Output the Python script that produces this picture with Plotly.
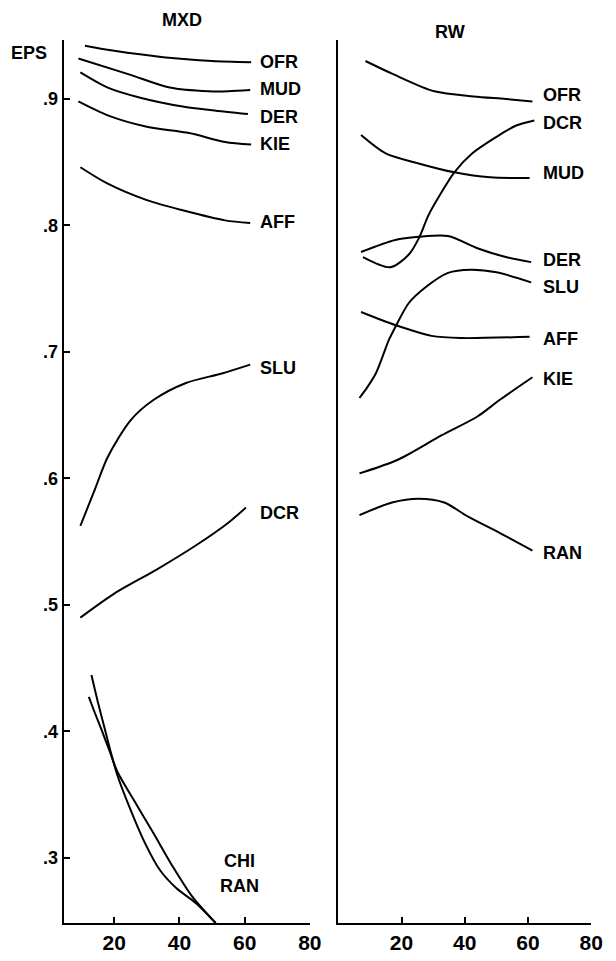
import plotly.graph_objects as go

# EPS against X for the MXD and RW series
mxd_ofr_x = [11, 20, 35, 50, 62]
mxd_ofr_y = [0.942, 0.938, 0.933, 0.930, 0.929]
mxd_mud_x = [9, 25, 37, 49, 55, 61.7]
mxd_mud_y = [0.932, 0.919, 0.909, 0.906, 0.906, 0.907]
mxd_der_x = [9.6, 18, 28, 41, 50, 61]
mxd_der_y = [0.921, 0.909, 0.901, 0.894, 0.891, 0.888]
mxd_kie_x = [9, 18, 30, 43, 54, 62]
mxd_kie_y = [0.898, 0.887, 0.878, 0.873, 0.866, 0.864]
mxd_aff_x = [9.6, 18, 30, 41, 54, 61.7]
mxd_aff_y = [0.846, 0.833, 0.820, 0.812, 0.804, 0.802]
mxd_slu_x = [9.6, 14, 18, 25, 32, 42, 53, 61.7]
mxd_slu_y = [0.5625, 0.591, 0.617, 0.646, 0.662, 0.6755, 0.683, 0.690]
mxd_dcr_x = [9.6, 20, 33, 45, 55, 60.4]
mxd_dcr_y = [0.490, 0.509, 0.528, 0.547, 0.565, 0.577]
mxd_chi_x = [12.2, 14, 16, 18.5, 21, 26, 32, 38, 44, 51.1]
mxd_chi_y = [0.4273, 0.415, 0.402, 0.385, 0.368, 0.3458, 0.3198, 0.293, 0.2692, 0.2486]
mxd_ran_x = [13, 15, 17, 19, 21, 24.7, 29.2, 34, 39, 45, 51.1]
mxd_ran_y = [0.4447, 0.423, 0.403, 0.383, 0.365, 0.340, 0.313, 0.2905, 0.2763, 0.2644, 0.2486]

rw_ofr_x = [8.6, 17, 30.4, 42.8, 53, 61.4]
rw_ofr_y = [0.930, 0.920, 0.906, 0.902, 0.900, 0.898]
rw_dcr_x = [7.8, 16.5, 22.3, 25.7, 28.5, 32.6, 36.7, 42.4, 50, 56.3, 62]
rw_dcr_y = [0.775, 0.767, 0.777, 0.791, 0.808, 0.826, 0.842, 0.857, 0.870, 0.879, 0.883]
rw_mud_x = [7.2, 15, 25.4, 36.7, 48, 60.5]
rw_mud_y = [0.8715, 0.857, 0.849, 0.842, 0.838, 0.8375]
rw_der_x = [7.2, 18, 25.4, 34.7, 44, 53, 61]
rw_der_y = [0.779, 0.7885, 0.791, 0.7917, 0.782, 0.775, 0.771]
rw_slu_x = [6.7, 9.3, 11.9, 14, 16, 18.1, 22.3, 27.3, 34.7, 41.9, 50, 61]
rw_slu_y = [0.6636, 0.6726, 0.6832, 0.6963, 0.7095, 0.720, 0.7387, 0.7506, 0.7625, 0.765, 0.763, 0.755]
rw_aff_x = [7.2, 18, 29.5, 38.8, 60.5]
rw_aff_y = [0.7316, 0.7213, 0.7127, 0.711, 0.712]
rw_kie_x = [6.7, 19, 32.6, 44, 51, 61.4]
rw_kie_y = [0.604, 0.615, 0.634, 0.649, 0.662, 0.680]
rw_ran_x = [6.7, 17, 25.4, 33.5, 40.9, 51, 61.4]
rw_ran_y = [0.571, 0.581, 0.584, 0.581, 0.570, 0.557, 0.543]

# Curve labels: (text, y position)
mxd_labels = [("OFR", 0.929), ("MUD", 0.908), ("DER", 0.886), ("KIE", 0.864),
              ("AFF", 0.803), ("SLU", 0.687), ("DCR", 0.573)]
mxd_low_labels = [("CHI", 0.298), ("RAN", 0.278)]
rw_labels = [("OFR", 0.903), ("DCR", 0.881), ("MUD", 0.8415), ("DER", 0.773),
             ("SLU", 0.751), ("AFF", 0.710), ("KIE", 0.679), ("RAN", 0.541)]

x_ticks = [20, 40, 60, 80]
y_ticks = [0.3, 0.4, 0.5, 0.6, 0.7, 0.8, 0.9]
y_ticktext = [".3", ".4", ".5", ".6", ".7", ".8", ".9"]

FONT = "Liberation Sans"
LINE = dict(color="black", width=2, shape="spline", smoothing=0.8)

fig = go.Figure()

mxd_series = [(mxd_ofr_x, mxd_ofr_y), (mxd_mud_x, mxd_mud_y), (mxd_der_x, mxd_der_y),
              (mxd_kie_x, mxd_kie_y), (mxd_aff_x, mxd_aff_y), (mxd_slu_x, mxd_slu_y),
              (mxd_dcr_x, mxd_dcr_y), (mxd_chi_x, mxd_chi_y), (mxd_ran_x, mxd_ran_y)]
rw_series = [(rw_ofr_x, rw_ofr_y), (rw_dcr_x, rw_dcr_y), (rw_mud_x, rw_mud_y),
             (rw_der_x, rw_der_y), (rw_slu_x, rw_slu_y), (rw_aff_x, rw_aff_y),
             (rw_kie_x, rw_kie_y), (rw_ran_x, rw_ran_y)]

for xs, ys in mxd_series:
    fig.add_trace(go.Scatter(x=xs, y=ys, mode="lines", line=LINE,
                             xaxis="x", yaxis="y", showlegend=False, hoverinfo="skip"))
for xs, ys in rw_series:
    fig.add_trace(go.Scatter(x=xs, y=ys, mode="lines", line=LINE,
                             xaxis="x2", yaxis="y2", showlegend=False, hoverinfo="skip"))

lab_font = dict(family=FONT, size=18, color="black", weight="bold")
ann = []
for txt, yv in mxd_labels:
    ann.append(dict(x=64, y=yv, xref="x", yref="y", text=txt, showarrow=False,
                    xanchor="left", yanchor="middle", font=lab_font))
for txt, yv in mxd_low_labels:
    ann.append(dict(x=58.5, y=yv, xref="x", yref="y", text=txt, showarrow=False,
                    xanchor="center", yanchor="middle", font=lab_font))
for txt, yv in rw_labels:
    ann.append(dict(x=64.2, y=yv, xref="x2", yref="y2", text=txt, showarrow=False,
                    xanchor="left", yanchor="middle", font=lab_font))

ann.append(dict(x=0.302, y=0.979, xref="paper", yref="paper", text="MXD", showarrow=False,
                xanchor="center", yanchor="middle", font=lab_font))
ann.append(dict(x=0.745, y=0.967, xref="paper", yref="paper", text="RW", showarrow=False,
                xanchor="center", yanchor="middle", font=lab_font))
ann.append(dict(x=0.0487, y=0.9448, xref="paper", yref="paper", text="EPS", showarrow=False,
                xanchor="center", yanchor="middle", font=lab_font))

y_range = [0.2486, 0.9466]
y_dom = [0.0395, 0.9584]
tick_font = dict(family=FONT, size=21, color="black", weight="bold")

x_style = dict(showgrid=False, zeroline=False, showline=True, linecolor="black", linewidth=2,
               ticks="inside", ticklen=6, tickwidth=2, tickcolor="black",
               tickvals=x_ticks, tickfont=tick_font)

fig.update_layout(
    width=616, height=961,
    margin=dict(l=0, r=0, t=0, b=0),
    paper_bgcolor="white", plot_bgcolor="white",
    showlegend=False,
    annotations=ann,
    xaxis=dict(domain=[65 / 616, 316 / 616], range=[4.5, 80], anchor="y", **x_style),
    xaxis2=dict(domain=[345 / 616, 603 / 616], range=[0, 80], anchor="y2", **x_style),
    yaxis=dict(domain=y_dom, range=y_range, anchor="x", showgrid=False, zeroline=False,
               showline=True, linecolor="black", linewidth=2,
               ticks="inside", ticklen=6, tickwidth=2, tickcolor="black",
               tickvals=y_ticks, ticktext=y_ticktext,
               tickfont=dict(family=FONT, size=18, color="black", weight="bold")),
    yaxis2=dict(domain=y_dom, range=y_range, anchor="x2", showgrid=False, zeroline=False,
                showline=True, linecolor="black", linewidth=2,
                ticks="", showticklabels=False),
)

fig.write_html("out.html")
